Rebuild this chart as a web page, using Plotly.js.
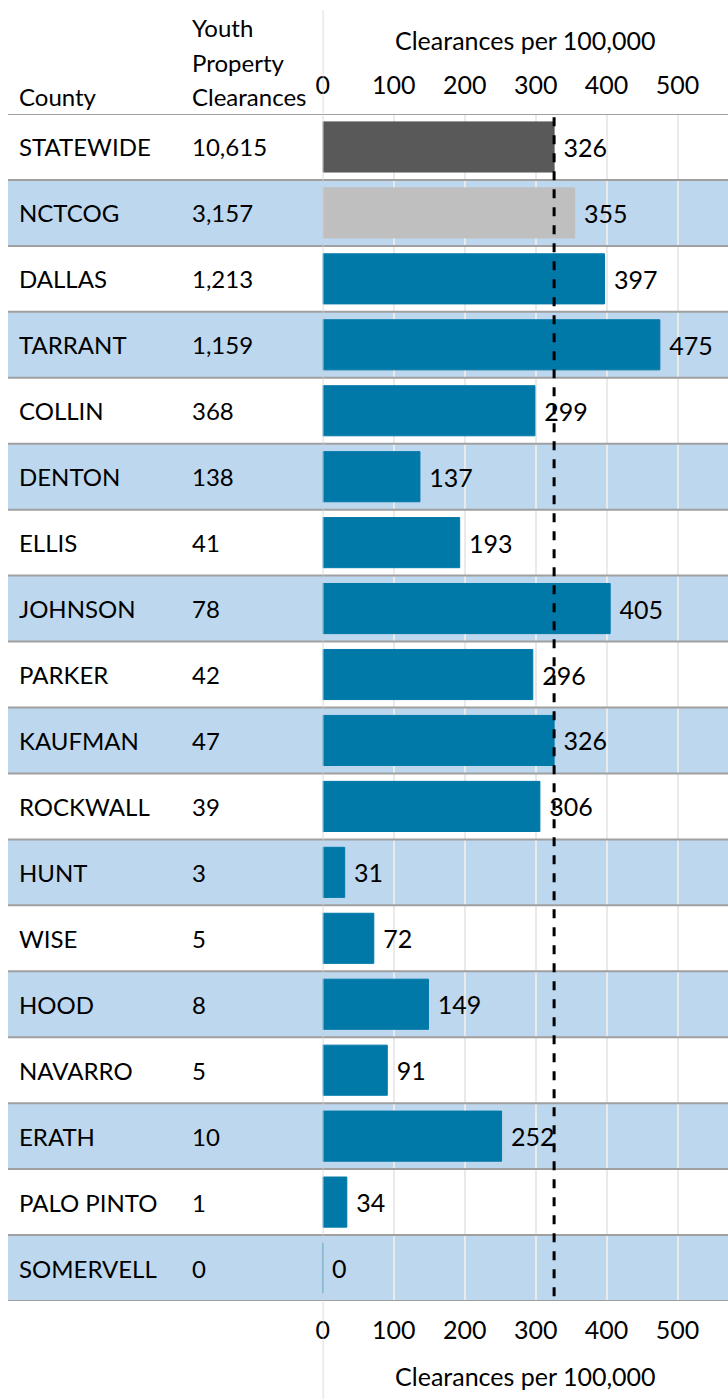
<!DOCTYPE html>
<html>
<head>
<meta charset="utf-8">
<script src="https://cdn.plot.ly/plotly-3.0.1.min.js"></script>
<style>html,body{margin:0;padding:0;background:#fff;}#chart{width:728px;height:1399px;}</style>
</head>
<body>
<div id="chart"></div>
<script>
const counties = ["STATEWIDE","NCTCOG","DALLAS","TARRANT","COLLIN","DENTON","ELLIS","JOHNSON","PARKER","KAUFMAN","ROCKWALL","HUNT","WISE","HOOD","NAVARRO","ERATH","PALO PINTO","SOMERVELL"];
const clearances = ["10,615","3,157","1,213","1,159","368","138","41","78","42","47","39","3","5","8","5","10","1","0"];
const ratePer100k = [326,355,397,475,299,137,193,405,296,326,306,31,72,149,91,252,34,0];
const statewideRate = 326;
const xTicks = [0,100,200,300,400,500];
const axisTitle = "Clearances per 100,000";
const colHeaders = {county: "County", clearances: ["Youth","Property","Clearances"]};

const FONT = "Lato, 'Open Sans', sans-serif";
const FS = 24;
const FN = 25;
const W = 728, H = 1399;
const rowTop = 114, rowBottom = 1301;
const yDomain = [1 - rowBottom / H, 1 - rowTop / H];
const xDomain = [322.7 / W, 1];
const xRange = [0, 571];

const colors = counties.map((c, i) => i === 0 ? "#595959" : (i === 1 ? "#BFBFBF" : "#0079A8"));

const shapes = [];
const annotations = [];
counties.forEach((c, i) => {
  if (i % 2 === 1) {
    shapes.push({type: "rect", layer: "below", xref: "paper", yref: "y", x0: 8 / W, x1: 1, y0: i - 0.5, y1: i + 0.5, fillcolor: "#BDD7EE", line: {width: 0}});
  }
  annotations.push({xref: "paper", yref: "y", x: 17 / W, y: c, text: c, showarrow: false, xanchor: "left", yanchor: "middle", font: {family: FONT, size: FS, color: "#000"}});
  annotations.push({xref: "paper", yref: "y", x: 190 / W, y: c, text: clearances[i], showarrow: false, xanchor: "left", yanchor: "middle", font: {family: FONT, size: FS, color: "#000"}});
});
for (let i = 0; i <= counties.length; i++) {
  shapes.push({type: "line", layer: "above", xref: "paper", yref: "y", x0: 8 / W, x1: 1, y0: i - 0.5, y1: i - 0.5, line: {color: "#A0A0A0", width: 2}});
}
// vertical axis line
shapes.push({type: "line", layer: "above", xref: "x", yref: "paper", x0: 0, x1: 0, y0: 0, y1: 1 - 10 / H, line: {color: "#D0D0D0", width: 1.5}});
// statewide dashed line
shapes.push({type: "line", layer: "above", xref: "x", yref: "y", x0: statewideRate, x1: statewideRate, y0: -0.45, y1: counties.length - 0.55, line: {color: "#000", width: 3, dash: "dash"}});

// header
annotations.push({xref: "paper", yref: "paper", x: 17 / W, y: 1 - 97 / H, text: colHeaders.county, showarrow: false, xanchor: "left", yanchor: "middle", font: {family: FONT, size: FS, color: "#000"}});
colHeaders.clearances.forEach((t, k) => {
  annotations.push({xref: "paper", yref: "paper", x: 190 / W, y: 1 - (27 + 35 * k) / H, text: t, showarrow: false, xanchor: "left", yanchor: "middle", font: {family: FONT, size: FS, color: "#000"}});
});
// top axis title
annotations.push({xref: "paper", yref: "paper", x: (xDomain[0] + xDomain[1]) / 2, y: 1 - 40 / H, text: axisTitle, showarrow: false, xanchor: "center", yanchor: "middle", font: {family: FONT, size: FN, color: "#000"}});

const traces = [
  {type: "bar", orientation: "h", x: ratePer100k, y: counties, xaxis: "x", yaxis: "y",
   marker: {color: colors, line: {color: colors, width: 1}}, width: 0.76,
   text: ratePer100k.map(v => " " + v), textposition: "outside", cliponaxis: false,
   textfont: {family: FONT, size: FN, color: "#000"}, hoverinfo: "none"},
  {type: "scatter", mode: "markers", x: [0], y: [counties[0]], xaxis: "x2", yaxis: "y", marker: {opacity: 0}, hoverinfo: "none", showlegend: false}
];

const axisCommon = {
  range: xRange, domain: xDomain, tickvals: xTicks, showgrid: true, gridcolor: "#EAEAEA", gridwidth: 2,
  zeroline: false, showline: false, ticks: "", ticklabelstandoff: 12,
  tickfont: {family: FONT, size: FN, color: "#000"}, fixedrange: true
};

const layout = {
  width: W, height: H, margin: {l: 0, r: 0, t: 0, b: 0},
  paper_bgcolor: "#fff", plot_bgcolor: "rgba(0,0,0,0)", showlegend: false, bargap: 0.24,
  font: {family: FONT, size: FS, color: "#000"},
  xaxis: Object.assign({}, axisCommon, {side: "bottom", anchor: "y", title: {text: axisTitle, font: {family: FONT, size: FN, color: "#000"}}}),
  xaxis2: Object.assign({}, axisCommon, {side: "top", anchor: "y", overlaying: "x", showgrid: false, ticklabelstandoff: 14}),
  yaxis: {domain: yDomain, range: [counties.length - 0.5, -0.5], showticklabels: false, showgrid: false, zeroline: false, showline: false, ticks: "", fixedrange: true},
  shapes: shapes, annotations: annotations
};

Plotly.newPlot("chart", traces, layout, {displayModeBar: false, staticPlot: true});
</script>
</body>
</html>
